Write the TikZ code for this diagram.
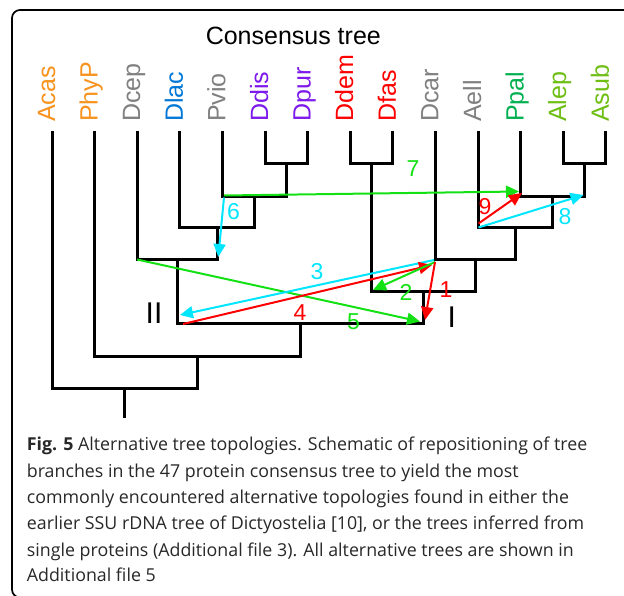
\documentclass[tikz,border=0pt]{standalone}
\usepackage{fontspec}
\setmainfont{Liberation Sans}
\newfontfamily\capfont{Open Sans}
\usetikzlibrary{arrows.meta}
\definecolor{corange}{RGB}{247,147,30}
\definecolor{cgray}{RGB}{128,128,128}
\definecolor{cblue}{RGB}{0,120,215}
\definecolor{cpurple}{RGB}{125,25,235}
\definecolor{cred}{RGB}{255,0,0}
\definecolor{cpal}{RGB}{0,176,80}
\definecolor{cyell}{RGB}{110,190,20}
\definecolor{agreen}{RGB}{20,225,20}
\definecolor{acyan}{RGB}{0,230,255}
\definecolor{ared}{RGB}{255,0,0}
\definecolor{captext}{RGB}{40,40,40}
\tikzset{
  leaf/.style={rotate=90,anchor=base west,inner sep=0pt,font=\fontsize{25}{30}\selectfont},
  tree/.style={line width=3pt,black},
  arr/.style={line width=2pt,-{Triangle[length=13pt,width=12pt]}},
  num/.style={inner sep=0pt,font=\fontsize{23}{28}\selectfont},
  roman/.style={inner sep=0pt,font=\fontsize{30}{34}\selectfont},
  capline/.style={anchor=base west,inner sep=0pt,text=captext,font=\capfont\fontsize{17.8}{21}\selectfont},
}
\begin{document}
\begin{tikzpicture}[x=1pt,y=-1pt]
\useasboundingbox (0,0) rectangle (624,596);
\fill[white] (0,0) rectangle (624,596);
% frame
\draw[line width=1.7pt,rounded corners=8pt] (626,10) -- (12,10) -- (12,597.5) -- (626,597.5);
% title
\node[anchor=base,inner sep=0pt,font=\fontsize{25}{30}\selectfont] (title) at (293.3,45) {Consensus tree};
% leaves
\foreach \n/\c [count=\i from 0] in {Acas/corange,PhyP/corange,Dcep/cgray,Dlac/cblue,Pvio/cgray,Ddis/cpurple,Dpur/cpurple,Ddem/cred,Dfas/cred,Dcar/cgray,Aell/cgray,Ppal/cpal,Alep/cyell,Asub/cyell}{
  \coordinate (t\n) at (52+42.6*\i,131);
  \node[leaf,text=\c] (l\n) at (55+42.6*\i,122) {\n};
}
% tree
\coordinate (jDD) at (286.3,164);
\draw[tree] (tDdis) |- (jDD) -| (tDpur);
\coordinate (jPv) at (254.35,196.5);
\draw[tree] (tPvio) |- (jPv) -| (jDD);
\coordinate (jDl) at (217.1,228);
\draw[tree] (tDlac) |- (jDl) -| (jPv);
\coordinate (jDc) at (177.1,259.5);
\draw[tree] (tDcep) |- (jDc) -| (jDl);
\coordinate (jDf) at (371.5,164);
\draw[tree] (tDdem) |- (jDf) -| (tDfas);
\coordinate (jAA) at (584.5,164);
\draw[tree] (tAlep) |- (jAA) -| (tAsub);
\coordinate (jPp) at (552.55,196.5);
\draw[tree] (tPpal) |- (jPp) -| (jAA);
\coordinate (jAe) at (515.3,228);
\draw[tree] (tAell) |- (jAe) -| (jPp);
\coordinate (jDr) at (475.3,259.5);
\draw[tree] (tDcar) |- (jDr) -| (jAe);
\coordinate (jI) at (423.4,291.7);
\draw[tree] (jDf) |- (jI) -| (jDr);
\coordinate (jII) at (300.25,323.3);
\draw[tree] (jDc) |- (jII) -| (jI);
\coordinate (jPh) at (197.4,356);
\draw[tree] (tPhyP) |- (jPh) -| (jII);
\coordinate (jAc) at (124.7,388.3);
\draw[tree] (tAcas) |- (jAc) -| (jPh);
\coordinate (root) at (124.7,418.3);
\draw[tree] (jAc) -- (root);
% arrow end points
\coordinate (s7) at (224,195.5);   \coordinate (e7) at (519,191.5);
\coordinate (s6) at (224,197.5);   \coordinate (e6) at (218.3,257);
\coordinate (s5) at (137,259.5);   \coordinate (e5) at (420,321.5);
\coordinate (s3) at (434,260);     \coordinate (e3) at (180,315);
\coordinate (s4) at (183,324);     \coordinate (e4) at (432,265);
\coordinate (s2) at (435,262);     \coordinate (e2) at (373,290);
\coordinate (s1) at (435,262);     \coordinate (e1) at (425,320);
\coordinate (s9) at (478.5,223.5); \coordinate (e9) at (522,193);
\coordinate (s8) at (478.5,227.5); \coordinate (e8) at (583.5,195);
\draw[arr,agreen] (s7) -- (e7);
\draw[arr,acyan] (s6) -- (e6);
\draw[arr,agreen] (s5) -- (e5);
\draw[arr,acyan] (s3) -- (e3);
\draw[arr,ared] (s4) -- (e4);
\draw[arr,agreen] (s2) -- (e2);
\draw[arr,ared] (s1) -- (e1);
\draw[arr,ared] (s9) -- (e9);
\draw[arr,acyan] (s8) -- (e8);
% arrow labels
\node[num,text=agreen] (n7) at (413,168.5) {7};
\node[num,text=acyan] (n6) at (233.5,212) {6};
\node[num,text=agreen] (n5) at (353.5,322) {5};
\node[num,text=acyan] (n3) at (317,271.5) {3};
\node[num,text=ared] (n4) at (300,313) {4};
\node[num,text=agreen] (n2) at (406,292) {2};
\node[num,text=ared] (n1) at (446,289.5) {1};
\node[num,text=ared] (n9) at (485,207) {9};
\node[num,text=acyan] (n8) at (565,217) {8};
\node[roman] (rII) at (154,313.5) {II};
\node[roman] (rI) at (451.7,317) {I};
% caption
\node[capline] (c1) at (26.7,450.5) {\textbf{Fig. 5} Alternative tree topologies. Schematic of repositioning of tree};
\node[capline] (c2) at (26.7,477) {branches in the 47 protein consensus tree to yield the most};
\node[capline] (c3) at (26.7,503.3) {commonly encountered alternative topologies found in either the};
\node[capline] (c4) at (26.7,529.8) {earlier SSU rDNA tree of Dictyostelia [10], or the trees inferred from};
\node[capline] (c5) at (26.7,556.3) {single proteins (Additional file 3). All alternative trees are shown in};
\node[capline] (c6) at (26.7,581.5) {Additional file 5};
\end{tikzpicture}
\end{document}
